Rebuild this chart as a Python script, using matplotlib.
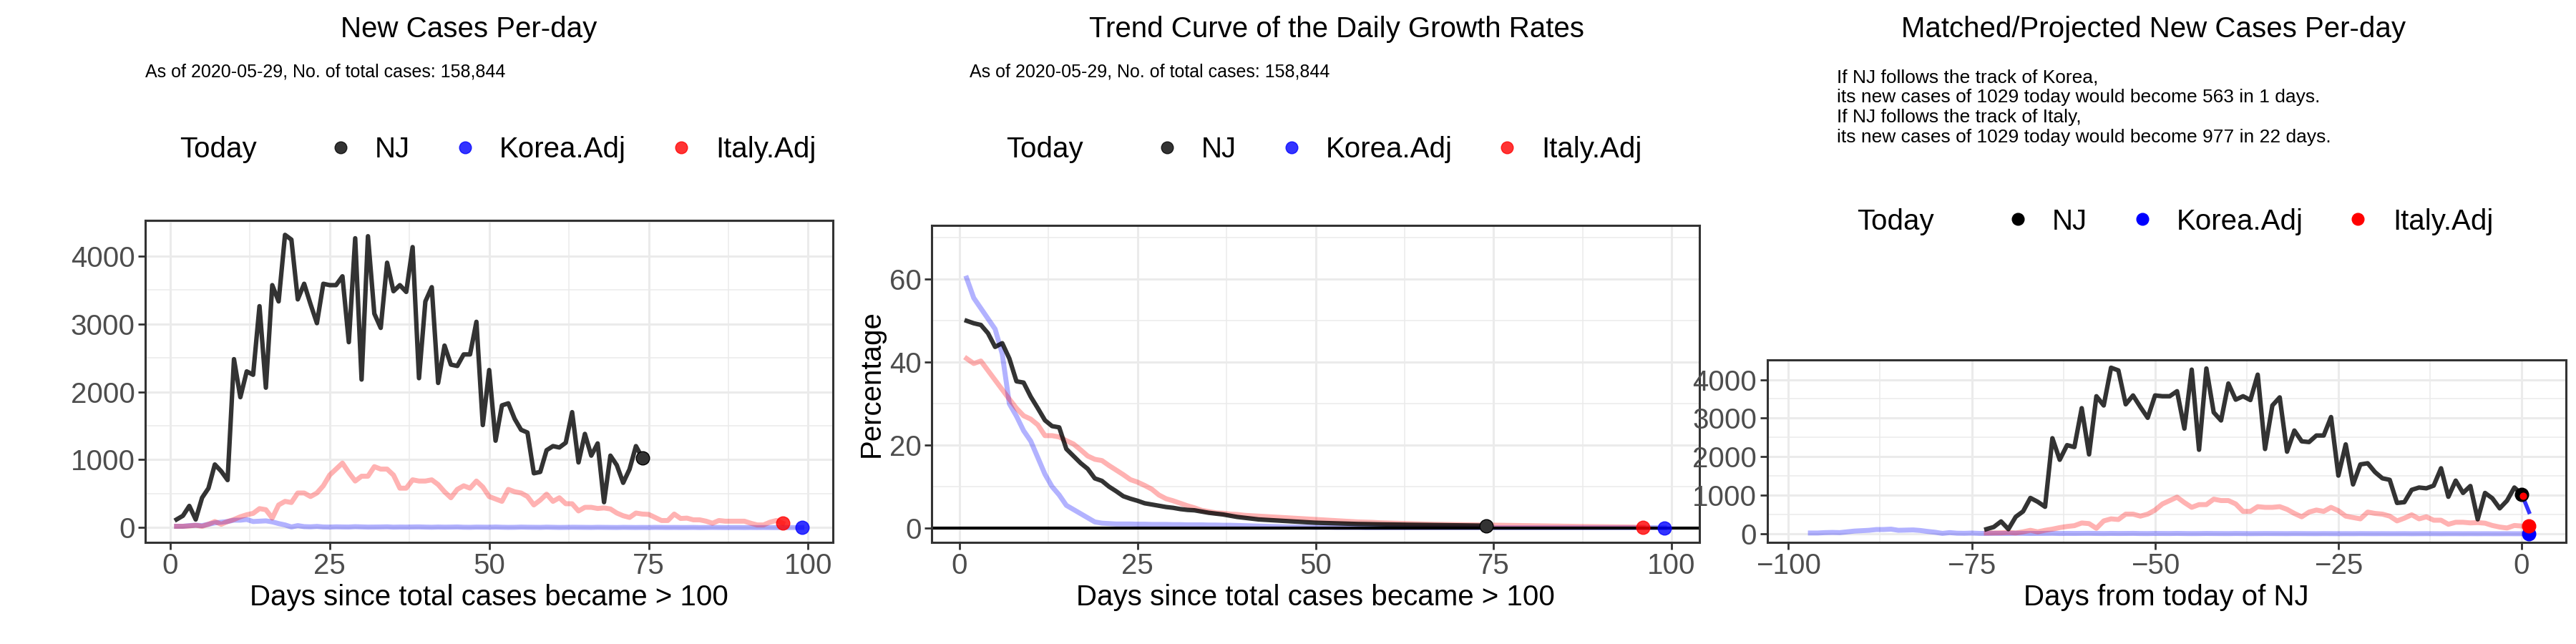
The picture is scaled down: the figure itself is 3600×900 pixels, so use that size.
import matplotlib
matplotlib.use("Agg")
import matplotlib.pyplot as plt
from matplotlib.lines import Line2D
from matplotlib.ticker import MultipleLocator

plt.rcParams['font.family'] = ['Liberation Sans', 'DejaVu Sans']

# --- data ---
nj_new = [120, 175, 320, 120, 440, 580, 930, 830, 700, 2480,
          1920, 2300, 2250, 3260, 2060, 3570, 3330, 4310, 4240, 3360,
          3590, 3290, 3010, 3590, 3570, 3570, 3700, 2730, 4260, 2180,
          4290, 3150, 2940, 3900, 3480, 3570, 3470, 4130, 2200, 3330,
          3540, 2130, 2680, 2400, 2380, 2550, 2550, 3030, 1510, 2320,
          1280, 1800, 1830, 1600, 1440, 1400, 800, 820, 1140, 1200,
          1180, 1250, 1700, 960, 1380, 1060, 1240, 375, 1060, 920,
          660, 860, 1200, 1029]
italy_new = [20, 20, 25, 35, 20, 50, 90, 50, 90, 120,
             160, 190, 210, 280, 264, 141, 334, 387, 370, 510,
             510, 458, 510, 616, 774, 862, 950, 810, 686, 757,
             757, 898, 862, 862, 774, 581, 581, 704, 686, 686,
             704, 634, 528, 440, 563, 616, 581, 686, 598, 458,
             422, 387, 563, 528, 510, 458, 334, 405, 493, 387,
             440, 352, 352, 246, 299, 299, 282, 290, 275, 215,
             175, 150, 215, 200, 195, 150, 105, 105, 200, 135,
             140, 115, 115, 95, 65, 105, 95, 95, 95, 95,
             65, 40, 40, 80, 105, 65]
korea_new = [20, 20, 30, 35, 30, 50, 70, 80, 90, 110,
             110, 120, 90, 95, 100, 85, 60, 40, 10, 30,
             15, 12, 18, 10, 8, 12, 10, 9, 14, 11,
             8, 9, 10, 12, 7, 9, 8, 10, 11, 8,
             6, 9, 7, 8, 10, 6, 5, 8, 7, 6,
             9, 6, 4, 5, 8, 6, 5, 4, 7, 5,
             3, 4, 6, 5, 4, 3, 5, 4, 3, 2,
             4, 3, 2, 3, 2, 4, 3, 2, 3, 2,
             2, 3, 1, 2, 3, 2, 1, 2, 2, 1,
             2, 1, 2, 1, 1, 2, 1, 1, 1]

nj_rate = [50, 49.4, 49, 47, 43.7, 44.6, 40.9, 35.4, 35.1, 31.7,
           28.9, 26, 24.6, 24.3, 19.1, 17.4, 15.7, 14.3, 12, 11.4,
           10, 8.9, 7.7, 7.1, 6.6, 6, 5.7, 5.4, 5.1, 4.9,
           4.6, 4.4, 4.3, 4, 3.7, 3.5, 3.3, 3, 2.7, 2.5,
           2.3, 2.1, 2, 1.9, 1.8, 1.7, 1.6, 1.5, 1.4, 1.3,
           1.25, 1.2, 1.15, 1.1, 1.05, 1, 0.98, 0.95, 0.92, 0.9,
           0.88, 0.85, 0.82, 0.8, 0.78, 0.76, 0.74, 0.72, 0.7, 0.68,
           0.66, 0.64, 0.62, 0.6]
italy_rate = [40.9, 39.7, 40.3, 38, 35.7, 33.4, 31.1, 28.9, 27.1, 26.3,
              24.9, 22.3, 22.3, 22, 21.1, 20.3, 18.9, 17.4, 16.6, 16.3,
              15.1, 14, 12.9, 11.7, 11.1, 10.3, 9.4, 8, 7.1, 6.6,
              6, 5.4, 4.9, 4.3, 4, 3.7, 3.6, 3.4, 3.3, 3.1,
              3, 2.9, 2.8, 2.7, 2.6, 2.5, 2.4, 2.3, 2.2, 2.1,
              2, 1.9, 1.8, 1.7, 1.6, 1.5, 1.45, 1.4, 1.3, 1.25,
              1.2, 1.15, 1.1, 1.05, 1, 0.95, 0.92, 0.9, 0.87, 0.85,
              0.82, 0.8, 0.77, 0.75, 0.72, 0.7, 0.67, 0.65, 0.62, 0.6,
              0.57, 0.55, 0.52, 0.5, 0.47, 0.45, 0.42, 0.4, 0.38, 0.36,
              0.34, 0.32, 0.3, 0.28, 0.25, 0.22]
korea_rate = [60.3, 55.5, 53, 50.5, 48, 42, 30, 27, 23.5, 21,
              17, 13, 10, 8, 5.5, 4.5, 3.5, 2.5, 1.5, 1.2,
              1.1, 1.0, 1.0, 1.0, 0.95, 0.95, 0.9, 0.9, 0.9, 0.85,
              0.85, 0.8, 0.8, 0.8, 0.75, 0.75, 0.7, 0.7, 0.65, 0.6,
              0.55, 0.5, 0.45, 0.4, 0.35, 0.3, 0.3, 0.25, 0.25, 0.2,
              0.2, 0.2, 0.15, 0.15, 0.15, 0.15, 0.1, 0.1, 0.1, 0.1,
              0.1, 0.1, 0.1, 0.1, 0.1, 0.1, 0.1, 0.1, 0.1, 0.1,
              0.1, 0.1, 0.1, 0.1, 0.1, 0.1, 0.1, 0.1, 0.1, 0.1,
              0.1, 0.1, 0.1, 0.1, 0.1, 0.1, 0.1, 0.1, 0.1, 0.1,
              0.1, 0.1, 0.1, 0.1, 0.1, 0.1, 0.1, 0.1, 0.1]

nj_days = list(range(1, len(nj_new) + 1))
italy_days = list(range(1, len(italy_new) + 1))
korea_days = list(range(1, len(korea_new) + 1))
nj_today = nj_new[-1]
korea_proj = 563          # projected value in 1 day
italy_match_len = 75      # Italy days used in the matched panel

subtitle = "As of 2020-05-29, No. of total cases: 158,844"
note3 = ("If NJ follows the track of Korea,\n"
         "its new cases of 1029 today would become 563 in 1 days.\n"
         "If NJ follows the track of Italy,\n"
         "its new cases of 1029 today would become 977 in 22 days.")

NJ_C, KO_C, IT_C = "#000000", "#0000FF", "#FF0000"
GRID = "#EBEBEB"
FS = 29


def style_axes(ax):
    ax.set_facecolor("white")
    for s in ax.spines.values():
        s.set_color("#333333")
        s.set_linewidth(2.2)
    ax.grid(True, which="major", color=GRID, lw=2.2)
    ax.grid(True, which="minor", color=GRID, lw=1.1)
    ax.set_axisbelow(True)
    ax.tick_params(which="major", length=7, width=2, color="#333333",
                   labelsize=FS, labelcolor="#4D4D4D")
    ax.tick_params(which="minor", length=0)


def add_legend(ax, y, alpha):
    handles = [Line2D([], [], ls="none"),
               Line2D([], [], ls="none", marker="o", ms=12, color=NJ_C, alpha=alpha),
               Line2D([], [], ls="none", marker="o", ms=12, color=KO_C, alpha=alpha),
               Line2D([], [], ls="none", marker="o", ms=12, color=IT_C, alpha=alpha)]
    labels = ["Today", "NJ", "Korea.Adj", "Italy.Adj"]
    leg = ax.legend(handles, labels, ncol=4, loc="center", bbox_to_anchor=(0.5, y),
                    frameon=False, fontsize=FS, handletextpad=0.8, columnspacing=1.5,
                    handlelength=0.8)
    leg.get_texts()[0].set_position((-40, 0))


fig = plt.figure(figsize=(36, 9), dpi=100)

# --- panel 1: new cases per day ---
ax1 = fig.add_axes([0.0564, 0.158, 0.267, 0.5])
style_axes(ax1)
ax1.plot(korea_days, korea_new, color=KO_C, alpha=0.3, lw=5)
ax1.plot(italy_days, italy_new, color=IT_C, alpha=0.3, lw=5)
ax1.plot(nj_days, nj_new, color=NJ_C, alpha=0.8, lw=4.5)
ax1.scatter([nj_days[-1]], [nj_new[-1]], s=180, color="#333333", edgecolor="black", zorder=5)
ax1.scatter([italy_days[-1]], [italy_new[-1]], s=180, color=IT_C, alpha=0.8, zorder=5)
ax1.scatter([korea_days[-1]], [korea_new[-1]], s=180, color=KO_C, alpha=0.8, zorder=5)
ax1.set_xlim(-3.9, 103.9)
ax1.set_ylim(-215, 4525)
ax1.xaxis.set_major_locator(MultipleLocator(25))
ax1.xaxis.set_minor_locator(MultipleLocator(12.5))
ax1.yaxis.set_major_locator(MultipleLocator(1000))
ax1.yaxis.set_minor_locator(MultipleLocator(500))
ax1.set_xlabel("Days since total cases became > 100", fontsize=FS)
add_legend(ax1, 1.22, 0.8)
fig.text(0.182, 0.955, "New Cases Per-day", ha="center", va="center", fontsize=29)
fig.text(0.0564, 0.888, subtitle, ha="left", va="center", fontsize=18)

# --- panel 2: growth rates ---
ax2 = fig.add_axes([0.3617, 0.158, 0.298, 0.492])
style_axes(ax2)
ax2.plot(korea_days, korea_rate, color=KO_C, alpha=0.3, lw=5)
ax2.plot(italy_days, italy_rate, color=IT_C, alpha=0.3, lw=5)
ax2.plot(nj_days, nj_rate, color=NJ_C, alpha=0.8, lw=4.5)
ax2.axhline(0, color="black", lw=3)
ax2.scatter([nj_days[-1]], [nj_rate[-1]], s=180, color="#333333", edgecolor="black", zorder=5)
ax2.scatter([italy_days[-1]], [italy_rate[-1]], s=180, color=IT_C, alpha=0.8, zorder=5)
ax2.scatter([korea_days[-1]], [korea_rate[-1]], s=180, color=KO_C, alpha=0.8, zorder=5)
ax2.set_xlim(-3.9, 103.9)
ax2.set_ylim(-3.4, 73)
ax2.xaxis.set_major_locator(MultipleLocator(25))
ax2.xaxis.set_minor_locator(MultipleLocator(12.5))
ax2.yaxis.set_major_locator(MultipleLocator(20))
ax2.yaxis.set_minor_locator(MultipleLocator(10))
ax2.set_xlabel("Days since total cases became > 100", fontsize=FS)
ax2.set_ylabel("Percentage", fontsize=FS)
add_legend(ax2, 1.24, 0.8)
fig.text(0.519, 0.955, "Trend Curve of the Daily Growth Rates", ha="center", va="center", fontsize=29)
fig.text(0.3764, 0.888, subtitle, ha="left", va="center", fontsize=18)

# --- panel 3: matched / projected ---
ax3 = fig.add_axes([0.686, 0.158, 0.31, 0.283])
style_axes(ax3)
ko_x = [d - len(korea_new) + 1 for d in korea_days]
it_x = [d - nj_days[-1] for d in italy_days[:italy_match_len]]
nj_x = [d - nj_days[-1] for d in nj_days]
ax3.plot(ko_x, korea_new, color=KO_C, alpha=0.3, lw=5)
ax3.plot(it_x, italy_new[:italy_match_len], color=IT_C, alpha=0.3, lw=5)
ax3.plot(nj_x, nj_new, color=NJ_C, alpha=0.8, lw=4.5)
ax3.plot([0, 1], [nj_today, korea_proj], color=KO_C, alpha=0.8, lw=4)
ax3.scatter([0], [nj_today], s=180, color=NJ_C, zorder=5)
ax3.scatter([0.2], [990], s=40, color=IT_C, zorder=6)
ax3.scatter([ko_x[-1]], [korea_new[-1]], s=180, color=KO_C, zorder=5)
ax3.scatter([it_x[-1]], [italy_new[italy_match_len - 1]], s=180, color=IT_C, zorder=5)
ax3.set_xlim(-102.9, 6)
ax3.set_ylim(-220, 4510)
ax3.xaxis.set_major_locator(MultipleLocator(25))
ax3.xaxis.set_minor_locator(MultipleLocator(12.5))
ax3.yaxis.set_major_locator(MultipleLocator(1000))
ax3.yaxis.set_minor_locator(MultipleLocator(500))
ax3.set_xlabel("Days from today of NJ", fontsize=FS)
add_legend(ax3, 1.76, 1.0)
fig.text(0.836, 0.955, "Matched/Projected New Cases Per-day", ha="center", va="center", fontsize=29)
fig.text(0.713, 0.833, note3, ha="left", va="center", fontsize=19, linespacing=1.2)

fig.savefig("out.png", dpi=100, facecolor="white")
